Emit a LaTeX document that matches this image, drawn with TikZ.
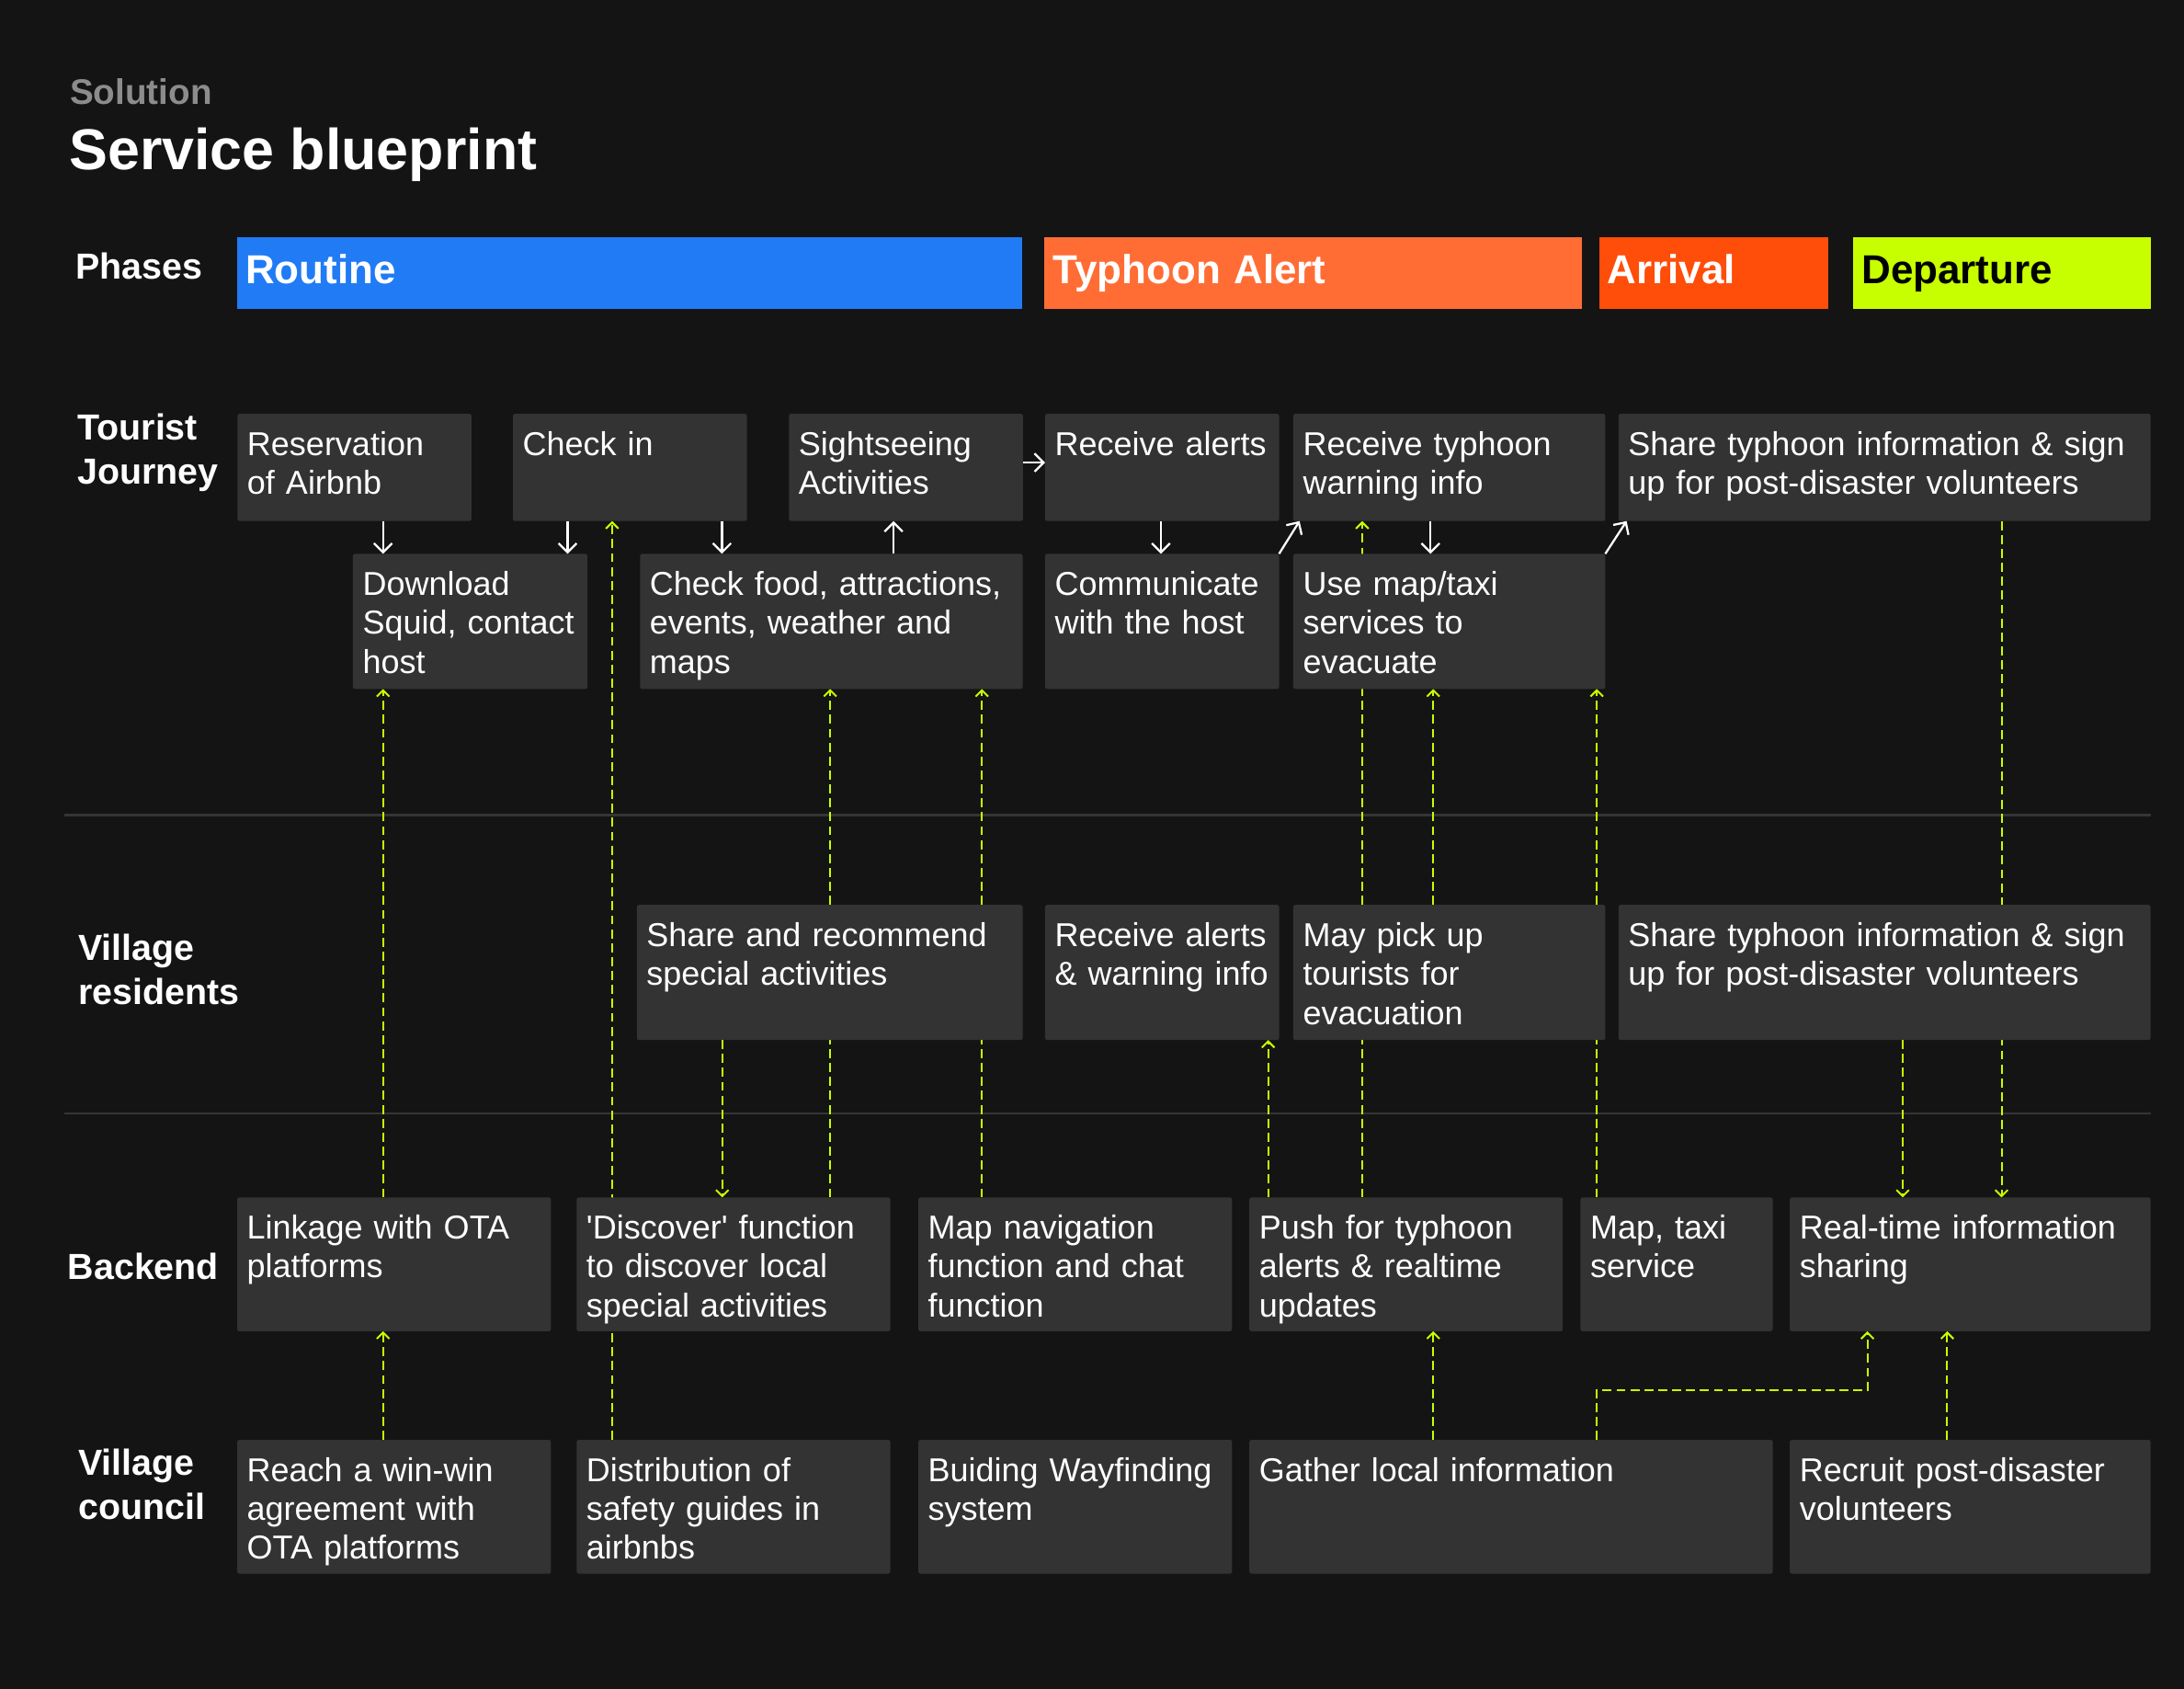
\documentclass[tikz,border=0pt]{standalone}
\usepackage{fontspec}
\setmainfont{Liberation Sans}
\usetikzlibrary{arrows.meta}
\pgfdeclarelayer{bg}
\pgfsetlayers{bg,main}
\definecolor{pagebg}{HTML}{141414}
\definecolor{cardbg}{HTML}{333333}
\definecolor{rulegray}{HTML}{353535}
\definecolor{lime}{HTML}{C8FF00}
\definecolor{routineblue}{HTML}{217BF5}
\definecolor{alertorange}{HTML}{FF6D35}
\definecolor{arrivalred}{HTML}{FF4D0A}
\definecolor{titlegray}{HTML}{8C8C8C}

\begin{document}
\begin{tikzpicture}[x=1pt, y=-1pt,
  card/.style={fill=cardbg, rounded corners=1.5pt, anchor=north west, inner xsep=7pt, inner ysep=0pt,
    outer sep=0pt, text=white, align=left, font=\fontsize{23.76pt}{28pt}\selectfont, text height=29.7pt},
  cardshort/.style={card, text depth=47.3pt},
  cardtall/.style={card, text depth=67.3pt},
  cardlow/.style={card, text depth=66.3pt},
  phase/.style={anchor=north west, inner xsep=6pt, inner ysep=0pt, outer sep=0pt, text=white,
    font=\bfseries\fontsize{29pt}{34pt}\selectfont, text height=33pt, text depth=18.4pt},
  lane/.style={anchor=base west, inner sep=0pt, text=white, align=left, text width=140pt,
    font=\bfseries\fontsize{26pt}{31.3pt}\selectfont},
  flow/.style={draw=white, line width=1.5pt, -{Straight Barb[length=6.5pt,width=13pt]}},
  link/.style={draw=lime, line width=1.3pt, dash pattern=on 6.5pt off 3.5pt,
    -{Straight Barb[length=4.5pt,width=9pt]}}]

  % 画布与背景
  \useasboundingbox (0,0) rectangle (1568,1212);
  \begin{pgfonlayer}{bg}
    \fill[pagebg] (0,0) rectangle (1568,1212);
    \draw[rulegray, line width=1.5pt] (45.9,585) -- (1544,585);
    \draw[rulegray, line width=1.5pt] (45.9,799) -- (1544,799);
  \end{pgfonlayer}

  % 标题
  \node[anchor=base west, inner sep=0pt, text=titlegray, font=\bfseries\fontsize{25.5pt}{30pt}\selectfont] (kicker) at (50,75) {Solution};
  \node[anchor=base west, inner sep=0pt, text=white, font=\bfseries\fontsize{41.4pt}{50pt}\selectfont] (title) at (49.5,121.5) {Service blueprint};

  % 左侧泳道名称
  \node[lane] (lphase) at (54,200) {Phases};
  \node[lane] (ltour) at (55.5,316) {Tourist\\Journey};
  \node[lane] (lres) at (56,689.5) {Village\\residents};
  \node[lane] (lback) at (48.5,918.2) {Backend};
  \node[lane] (lcoun) at (56,1059) {Village\\council};

  % 阶段色条
  \node[phase, fill=routineblue, text width=551.5pt] (routine) at (170.3,170.3) {Routine};
  \node[phase, fill=alertorange, text width=374pt] (typhoon) at (750,170.3) {Typhoon Alert};
  \node[phase, fill=arrivalred, text width=152.4pt] (arrival) at (1148,170.3) {Arrival};
  \node[phase, fill=lime, text=black, text width=201.7pt] (departure) at (1330.6,170.3) {Departure};

  % 游客旅程：上排
  \node[cardshort, text width=154pt] (resv) at (170.5,297) {Reservation\\of Airbnb};
  \node[cardshort, text width=154pt] (chkin) at (368.3,297) {Check in};
  \node[cardshort, text width=154pt] (sight) at (566.4,297) {Sightseeing\\Activities};
  \node[cardshort, text width=154pt] (ralert) at (750.3,297) {Receive alerts};
  \node[cardshort, text width=210pt] (rtyph) at (928.5,297) {Receive typhoon\\warning info};
  \node[cardshort, text width=368pt] (tshare) at (1162,297) {Share typhoon information \& sign\\up for post-disaster volunteers};

  % 游客旅程：下排
  \node[cardtall, text width=154.3pt] (dl) at (253.4,397.5) {Download\\Squid, contact\\host};
  \node[cardtall, text width=260.7pt] (food) at (459.5,397.5) {Check food, attractions,\\events, weather and\\maps};
  \node[cardtall, text width=154pt] (comm) at (750.3,397.5) {Communicate\\with the host};
  \node[cardtall, text width=210pt] (evac) at (928.5,397.5) {Use map/taxi\\services to\\evacuate};

  % 村民
  \node[cardtall, text width=263pt] (vshare) at (457.2,649.5) {Share and recommend\\special activities};
  \node[cardtall, text width=154pt] (valert) at (750.3,649.5) {Receive alerts\\\& warning info};
  \node[cardtall, text width=210pt] (pickup) at (928.5,649.5) {May pick up\\tourists for\\evacuation};
  \node[cardtall, text width=368pt] (vsign) at (1162,649.5) {Share typhoon information \& sign\\up for post-disaster volunteers};

  % 后台
  \node[cardlow, text width=211.3pt] (ota) at (170.3,859.5) {Linkage with OTA\\platforms};
  \node[cardlow, text width=211.2pt] (disc) at (414,859.5) {\textquotesingle Discover\textquotesingle{} function\\to discover local\\special activities};
  \node[cardlow, text width=211.3pt] (nav) at (659.3,859.5) {Map navigation\\function and chat\\function};
  \node[cardlow, text width=211pt] (push) at (897,859.5) {Push for typhoon\\alerts \& realtime\\updates};
  \node[cardlow, text width=124pt] (taxi) at (1134.7,859.5) {Map, taxi\\service};
  \node[cardlow, text width=245pt] (rt) at (1285,859.5) {Real-time information\\sharing};

  % 村委会
  \node[cardlow, text width=211.3pt] (deal) at (170.3,1033.5) {Reach a win-win\\agreement with\\OTA platforms};
  \node[cardlow, text width=211.2pt] (guide) at (414,1033.5) {Distribution of\\safety guides in\\airbnbs};
  \node[cardlow, text width=211.3pt] (wayf) at (659.3,1033.5) {Buiding Wayfinding\\system};
  \node[cardlow, text width=361.8pt] (gather) at (897,1033.5) {Gather local information};
  \node[cardlow, text width=245pt] (recruit) at (1285,1033.5) {Recruit post-disaster\\volunteers};

  % 游客动作流（白色实线）
  \draw[flow] (resv.south -| 275,0) -- (dl.north -| 275,0);
  \draw[flow] (chkin.south -| 407.5,0) -- (dl.north -| 407.5,0);
  \draw[flow] (chkin.south -| 518.3,0) -- (food.north -| 518.3,0);
  \draw[flow] (food.north -| 641.5,0) -- (sight.south -| 641.5,0);
  \draw[flow] (sight.east |- 0,332) -- (ralert.west |- 0,332);
  \draw[flow] (ralert.south -| 833.5,0) -- (comm.north -| 833.5,0);
  \draw[flow] (comm.north east) -- ([xshift=4.5pt]rtyph.south west);
  \draw[flow] (rtyph.south -| 1027,0) -- (evac.north -| 1027,0);
  \draw[flow] (evac.north east) -- ([xshift=5.8pt]tshare.south west);

  % 支撑关系（绿色虚线，压在卡片下面）
  \begin{pgfonlayer}{bg}
    \draw[link] (ota.north -| 275,0) -- (dl.south -| 275,0);
    \draw[link] (deal.north -| 275,0) -- (ota.south -| 275,0);
    \draw[link] (guide.north -| 439.5,0) -- (chkin.south -| 439.5,0);
    \draw[link] (disc.north -| 596,0) -- (food.south -| 596,0);
    \draw[link] (nav.north -| 705,0) -- (food.south -| 705,0);
    \draw[link] (vshare.south -| 518.5,0) -- (disc.north -| 518.5,0);
    \draw[link] (push.north -| 910.5,0) -- (valert.south -| 910.5,0);
    \draw[link] (push.north -| 978,0) -- (rtyph.south -| 978,0);
    \draw[link] (pickup.north -| 1029,0) -- (evac.south -| 1029,0);
    \draw[link] (gather.north -| 1029,0) -- (push.south -| 1029,0);
    \draw[link] (taxi.north -| 1146.4,0) -- (evac.south -| 1146.4,0);
    \draw[link] (gather.north -| 1146,0) -- (1146,998) -- (1340.7,998) -- (rt.south -| 1340.7,0);
    \draw[link] (recruit.north -| 1398,0) -- (rt.south -| 1398,0);
    \draw[link] (vsign.south -| 1366,0) -- (rt.north -| 1366,0);
    \draw[link] (tshare.south -| 1437,0) -- (rt.north -| 1437,0);
  \end{pgfonlayer}

\end{tikzpicture}
\end{document}
